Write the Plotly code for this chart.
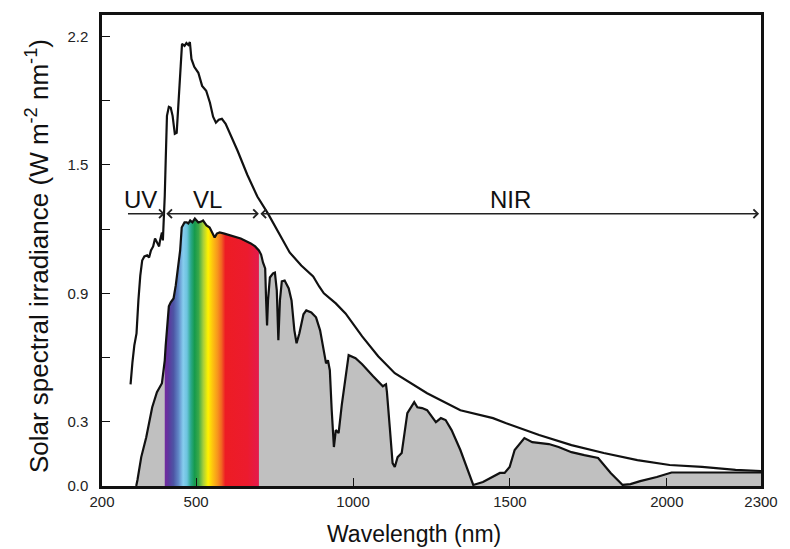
import plotly.graph_objects as go

# ---------------- DATA ----------------
# Extraterrestrial (top) spectrum: wavelength (nm), irradiance
et_wl = [291, 294, 297, 303, 310, 316, 322, 328, 335, 344, 350, 356, 363, 369, 375, 382, 385, 391, 394, 397,
         400, 403, 407, 413, 419, 425, 432, 438, 444, 450, 455, 463, 469, 475, 480, 485, 494, 507, 519, 532,
         544, 554, 563, 572, 582, 594, 613, 632, 663, 695, 729, 767, 798, 835, 873, 892, 907, 945, 976, 1029,
         1080, 1133, 1236, 1342, 1446, 1486, 1593, 1696, 1799, 1906, 2009, 2112, 2219, 2300]
et_val = [0.475, 0.541, 0.578, 0.657, 0.713, 0.867, 0.983, 1.053, 1.072, 1.077, 1.067, 1.100, 1.119, 1.156,
          1.137, 1.119, 1.147, 1.184, 1.147, 1.230, 1.356, 1.519, 1.729, 1.771, 1.767, 1.729, 1.645, 1.650,
          1.799, 1.958, 2.065, 2.056, 2.069, 2.060, 2.074, 1.995, 1.958, 1.930, 1.869, 1.846, 1.790, 1.725,
          1.697, 1.711, 1.715, 1.692, 1.631, 1.566, 1.454, 1.352, 1.272, 1.170, 1.091, 1.030, 0.979, 0.932,
          0.900, 0.853, 0.806, 0.699, 0.606, 0.527, 0.433, 0.354, 0.317, 0.294, 0.238, 0.191, 0.154, 0.121,
          0.098, 0.089, 0.075, 0.070]

# Surface (bottom) spectrum: wavelength (nm), irradiance
sf_wl = [309, 313, 325, 341, 360, 375, 391,
         400, 403, 408, 413, 419, 428, 435, 439, 444, 449, 454, 463, 470, 475, 481, 488, 496, 507, 516, 522,
         533, 543, 551, 559, 566, 575, 590, 611, 642, 674, 688, 700,
         707, 713, 720, 723, 726, 729, 735, 745, 751, 757, 762, 767, 773, 782, 795, 804, 813, 820, 829, 842,
         851, 867, 882, 895, 904, 914, 920, 926, 932, 939, 945, 954, 964, 976, 986, 1008, 1029, 1064, 1095,
         1105, 1108, 1117, 1126, 1133, 1142, 1155, 1173, 1195, 1205, 1220, 1236, 1264, 1280, 1295, 1314,
         1342, 1383, 1414, 1446, 1468, 1483, 1499, 1515, 1546, 1571, 1624, 1655, 1696, 1737, 1781, 1821,
         1859, 1884, 1915, 1968, 2015, 2072, 2219, 2300]
sf_val = [0.0, 0.028, 0.135, 0.228, 0.368, 0.438, 0.480,
          0.587, 0.657, 0.774, 0.839, 0.858, 0.876, 0.937, 0.993, 1.063, 1.100, 1.207, 1.231, 1.231, 1.226,
          1.240, 1.231, 1.249, 1.231, 1.235, 1.240, 1.217, 1.207, 1.184, 1.161, 1.179, 1.184, 1.179, 1.170,
          1.156, 1.133, 1.119, 1.100,
          1.081, 1.044, 1.016, 0.867, 0.750, 0.867, 0.974, 0.993, 0.997, 0.914, 0.681, 0.867, 0.956, 0.960,
          0.923, 0.867, 0.727, 0.667, 0.713, 0.802, 0.820, 0.811, 0.788, 0.727, 0.657, 0.573, 0.587, 0.541,
          0.354, 0.182, 0.261, 0.247, 0.378, 0.517, 0.611, 0.597, 0.569, 0.513, 0.466, 0.475, 0.438, 0.275,
          0.107, 0.089, 0.135, 0.154, 0.340, 0.392, 0.368, 0.364, 0.354, 0.298, 0.317, 0.308, 0.261, 0.168,
          0.005, 0.019, 0.042, 0.061, 0.061, 0.089, 0.168, 0.224, 0.205, 0.196, 0.182, 0.158, 0.144, 0.131,
          0.061, 0.005, 0.009, 0.023, 0.042, 0.063, 0.063, 0.061, 0.063]

x_ticks = [200, 500, 1000, 1500, 2000, 2300]
y_ticks = [0.0, 0.3, 0.6, 0.9, 1.2, 1.5, 1.8, 2.1]
y_tick_labels = ["0.0", "0.3", "", "0.9", "", "1.5", "", "2.2"]

vis_range = [400, 700]
band_edges = [278, 400, 700, 2294]
band_names = ["UV", "VL", "NIR"]
band_label_x = [322, 535, 1502]
band_arrow_y = 1.272
band_label_y = 1.338

# ---------------- FIGURE ----------------
FONT = "Liberation Sans, Arial, sans-serif"
spectrum = [[0.0, '#6f2c9f'], [0.03, '#5b3a9e'], [0.08, '#4d55a5'], [0.13, '#5f86c6'],
            [0.18, '#86cdee'], [0.22, '#6cc4de'], [0.26, '#2aa88a'], [0.30, '#159a4c'],
            [0.34, '#3aa848'], [0.39, '#a8cf3a'], [0.44, '#fff200'], [0.49, '#fdc010'],
            [0.54, '#f7941d'], [0.58, '#f26522'], [0.62, '#ed1c24'], [0.85, '#ec1b2e'],
            [0.96, '#e51a4a'], [1.0, '#c9173f']]

vis_wl = [w for w in sf_wl if vis_range[0] <= w <= vis_range[1]]
vis_val = [v for w, v in zip(sf_wl, sf_val) if vis_range[0] <= w <= vis_range[1]]

fig = go.Figure()
fig.add_trace(go.Scatter(x=sf_wl, y=sf_val, mode="lines", fill="tozeroy",
                         fillcolor="#c0c0c0", line=dict(width=0), hoverinfo="skip"))
fig.add_trace(go.Scatter(x=vis_wl, y=vis_val, mode="lines", fill="tozeroy",
                         fillgradient=dict(type="horizontal", colorscale=spectrum,
                                           start=vis_range[0], stop=vis_range[1]),
                         line=dict(width=0), hoverinfo="skip"))
fig.add_trace(go.Scatter(x=sf_wl, y=sf_val, mode="lines",
                         line=dict(color="#111111", width=2.2)))
fig.add_trace(go.Scatter(x=et_wl, y=et_val, mode="lines",
                         line=dict(color="#111111", width=2.2)))

annotations = []
for i, name in enumerate(band_names):
    annotations.append(dict(x=band_edges[i + 1], y=band_arrow_y, ax=band_edges[i], ay=band_arrow_y,
                            xref="x", yref="y", axref="x", ayref="y", text="", showarrow=True,
                            arrowhead=4, arrowsize=1.2, arrowwidth=1.4, arrowcolor="#222222",
                            arrowside="end" if i == 0 else "end+start",
                            startarrowhead=4, startarrowsize=1.2))
    annotations.append(dict(x=band_label_x[i], y=band_label_y, xref="x", yref="y", text=name,
                            showarrow=False, font=dict(family=FONT, size=24, color="#111111")))

annotations.append(dict(x=0.474, y=-0.102, xref="paper", yref="paper", text="Wavelength (nm)",
                        showarrow=False, xanchor="center", yanchor="middle",
                        font=dict(family=FONT, size=23, color="#111111")))
annotations.append(dict(x=-0.098, y=0.489, xref="paper", yref="paper",
                        text="Solar spectral irradiance (W m<sup>-2</sup> nm<sup>-1</sup>)",
                        textangle=-90, showarrow=False, xanchor="center", yanchor="middle",
                        font=dict(family=FONT, size=26, color="#111111")))

fig.update_layout(
    width=790, height=549, autosize=False,
    margin=dict(l=102, r=17, t=14, b=63),
    paper_bgcolor="white", plot_bgcolor="white",
    showlegend=False,
    annotations=annotations,
    xaxis=dict(range=[200, 2300], tickvals=x_ticks, ticktext=[str(t) for t in x_ticks],
               ticks="inside", ticklen=8, tickwidth=1.2, tickcolor="#111111",
               showline=True, linecolor="#111111", linewidth=2.5, mirror=True,
               showgrid=False, zeroline=False,
               tickfont=dict(family=FONT, size=15, color="#222222")),
    yaxis=dict(range=[0, 2.2], tickvals=y_ticks, ticktext=y_tick_labels,
               ticks="inside", ticklen=8, tickwidth=1.2, tickcolor="#111111",
               showline=True, linecolor="#111111", linewidth=2.5, mirror=True,
               showgrid=False, zeroline=False, ticklabelstandoff=8,
               tickfont=dict(family=FONT, size=15, color="#222222")),
)

fig.write_html("out.html")
